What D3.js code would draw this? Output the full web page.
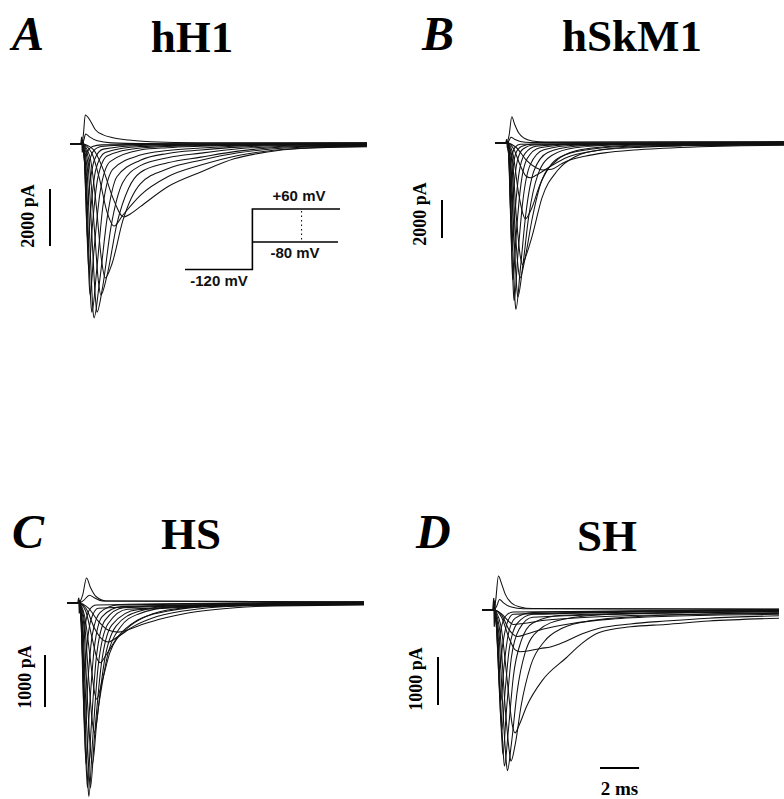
<!DOCTYPE html>
<html><head><meta charset="utf-8">
<script src="https://cdn.jsdelivr.net/npm/d3@7"></script>
<style>html,body{margin:0;padding:0;background:#fff;}svg{display:block;}</style>
</head><body>
<script>
// ---------------- DATA ----------------
const panelLetters = ["A", "B", "C", "D"];
const panelTitles = ["hH1", "hSkM1", "HS", "SH"];
const scaleBarValues = [2000, 2000, 1000, 1000];          // pA
const scaleBarLabels = ["2000 pA", "2000 pA", "1000 pA", "1000 pA"];
const timeBarValue = 2;                                   // ms
const timeBarLabel = "2 ms";
const timeDomain = [-0.6, 14.6];                          // ms

// protocol inset (panel A)
const protocolHold = -120;
const protocolTestLevels = [-80, 60];
const protocolTimes = [-10, 0, 13];
const protocolDottedTime = 7.3;
const protocolLabels = ["+60 mV", "-80 mV", "-120 mV"];

// current traces: [time ms, current pA]
const tracesA = [
  [[-0.6,0],[0,0],[0.6,-200],[1.1,-900],[1.6,-1900],[2.15,-2560],[2.5,-2450],[3,-2200],[4.4,-1500],[6.1,-980],[7.8,-520],[9.5,-280],[11.2,-160],[14.6,-95]],
  [[-0.6,0],[0,0],[0.5,-300],[0.9,-1200],[1.3,-2400],[1.65,-2880],[2.1,-2500],[3,-1800],[4.4,-1150],[6.1,-740],[8,-400],[11,-160],[14.6,-80]],
  [[-0.6,0],[0,0],[0.4,-400],[0.75,-2200],[1.0,-4000],[1.2,-4700],[1.55,-4200],[2.1,-2700],[3,-1400],[4.4,-870],[6.1,-570],[8,-310],[11,-120],[14.6,-65]],
  [[-0.6,0],[0,0],[0.35,-500],[0.65,-3000],[0.85,-4800],[0.98,-5300],[1.3,-4600],[1.8,-2800],[2.4,-1550],[3,-1000],[4.4,-660],[6.1,-460],[8,-250],[11,-90],[14.6,-50]],
  [[-0.6,0],[0,0],[0.3,-600],[0.55,-3600],[0.7,-5400],[0.78,-5900],[1.05,-5100],[1.5,-2900],[2.1,-1350],[3,-760],[4.4,-480],[6.1,-320],[8,-170],[11,-70],[14.6,-40]],
  [[-0.6,0],[0,0],[0.25,-700],[0.45,-4000],[0.57,-5800],[0.63,-6100],[0.9,-4900],[1.3,-2600],[1.8,-1150],[3,-570],[4.4,-330],[6.1,-210],[8,-110],[11,-45],[14.6,-25]],
  [[-0.6,0],[0,0],[0.2,-700],[0.38,-4200],[0.47,-5600],[0.52,-5900],[0.77,-4400],[1.08,-2200],[1.6,-880],[3,-390],[4.4,-230],[6.1,-140],[8,-70],[11,-25],[14.6,-15]],
  [[-0.6,0],[0,0],[0.18,-700],[0.32,-3800],[0.39,-5000],[0.43,-5300],[0.62,-3800],[0.95,-1650],[1.45,-620],[3,-210],[4.4,-130],[6.1,-80],[8,-40],[11,-10],[14.6,-5]],
  [[-0.6,0],[0,0],[0.16,-700],[0.28,-3300],[0.34,-4200],[0.37,-4400],[0.53,-3000],[0.82,-1200],[1.3,-420],[3,-140],[6.1,-50],[14.6,0]],
  [[-0.6,0],[0,0],[0.14,-600],[0.24,-2600],[0.29,-3250],[0.32,-3400],[0.46,-2300],[0.72,-900],[1.2,-300],[3,-90],[6.1,-30],[14.6,10]],
  [[-0.6,0],[0,0],[0.12,-400],[0.2,-1600],[0.27,-2150],[0.4,-1450],[0.65,-550],[1.1,-180],[3,-50],[6.1,-10],[14.6,20]],
  [[-0.6,0],[0,0],[0.1,-250],[0.17,-850],[0.22,-1100],[0.35,-700],[0.6,-250],[1.0,-90],[3,-20],[14.6,30]],
  [[-0.6,0],[0,0],[0.09,-100],[0.18,-400],[0.3,-250],[0.55,-90],[1.0,-30],[14.6,15]],
  [[-0.6,0],[0,0],[0.1,120],[0.2,350],[0.4,250],[0.8,110],[1.5,40],[3,20],[14.6,35]],
  [[-0.6,0],[0,0],[0.08,300],[0.18,1020],[0.45,800],[0.7,500],[1.1,320],[1.6,220],[2.4,140],[3.5,80],[6,40],[14.6,45]]
];
const tracesB = [
  [[-0.6,0],[0,0],[0.5,-250],[1.0,-900],[1.5,-1300],[1.85,-1420],[2.3,-1380],[2.8,-1100],[3.1,-950],[4,-700],[5,-520],[6.5,-370],[8,-280],[9.9,-200],[12,-140],[14.6,-110]],
  [[-0.6,0],[0,0],[0.35,-300],[0.7,-1200],[1.0,-1750],[1.2,-1830],[1.5,-1700],[2.2,-1250],[3.1,-750],[4.5,-420],[6.5,-240],[9,-150],[14.6,-90]],
  [[-0.6,0],[0,0],[0.3,-500],[0.6,-2600],[0.82,-3700],[0.95,-4000],[1.25,-3500],[1.7,-2200],[2.3,-1100],[3,-620],[4.5,-300],[7,-150],[14.6,-70]],
  [[-0.6,0],[0,0],[0.27,-700],[0.5,-4000],[0.7,-6000],[0.8,-6400],[1.0,-5900],[1.3,-4900],[1.8,-2900],[2.6,-1450],[3.5,-720],[5,-330],[8,-130],[14.6,-50]],
  [[-0.6,0],[0,0],[0.24,-800],[0.45,-4800],[0.6,-6700],[0.68,-7100],[0.95,-6000],[1.3,-4000],[1.8,-1950],[2.6,-880],[3.5,-420],[5,-200],[8,-80],[14.6,-30]],
  [[-0.6,0],[0,0],[0.2,-900],[0.4,-5500],[0.52,-7700],[0.57,-8100],[0.83,-6400],[1.12,-3900],[1.6,-1650],[2.3,-660],[3.5,-250],[6,-90],[14.6,-20]],
  [[-0.6,0],[0,0],[0.18,-1000],[0.33,-6000],[0.43,-8400],[0.47,-8750],[0.7,-6600],[0.97,-3800],[1.4,-1450],[2.1,-500],[3.5,-170],[6,-60],[14.6,-5]],
  [[-0.6,0],[0,0],[0.15,-1000],[0.27,-5800],[0.35,-8000],[0.38,-8300],[0.57,-5900],[0.82,-3100],[1.2,-1150],[1.9,-360],[3.5,-120],[14.6,0]],
  [[-0.6,0],[0,0],[0.13,-900],[0.23,-5000],[0.29,-6900],[0.32,-7200],[0.48,-4900],[0.7,-2400],[1.05,-820],[1.7,-250],[3.5,-80],[14.6,10]],
  [[-0.6,0],[0,0],[0.11,-800],[0.2,-4000],[0.27,-5700],[0.41,-3800],[0.62,-1650],[0.93,-560],[1.5,-170],[3.5,-50],[14.6,20]],
  [[-0.6,0],[0,0],[0.1,-600],[0.17,-2900],[0.23,-4100],[0.35,-2500],[0.53,-1000],[0.82,-330],[1.4,-100],[14.6,30]],
  [[-0.6,0],[0,0],[0.08,-400],[0.15,-1700],[0.2,-2500],[0.3,-1500],[0.46,-550],[0.75,-180],[1.3,-50],[14.6,40]],
  [[-0.6,0],[0,0],[0.07,-200],[0.13,-800],[0.17,-1100],[0.27,-650],[0.42,-230],[0.7,-70],[14.6,50]],
  [[-0.6,0],[0,0],[0.1,100],[0.22,300],[0.4,200],[0.7,80],[1.2,30],[14.6,60]],
  [[-0.6,0],[0,0],[0.12,400],[0.26,1380],[0.4,1000],[0.6,550],[0.9,250],[1.3,110],[2,50],[14.6,70]]
];
const tracesC = [
  [[-0.6,0],[0,0],[0.5,-100],[1.0,-350],[1.5,-520],[2.0,-560],[2.5,-520],[3.2,-420],[4.5,-280],[6,-170],[8,-90],[10,-55],[14.6,-40]],
  [[-0.6,0],[0,0],[0.4,-120],[0.8,-480],[1.2,-700],[1.5,-750],[2,-650],[2.8,-450],[4,-260],[6,-120],[9,-50],[14.6,-30]],
  [[-0.6,0],[0,0],[0.35,-150],[0.7,-700],[0.95,-1080],[1.1,-1150],[1.4,-1000],[2,-650],[3,-330],[4.5,-160],[7,-60],[14.6,-25]],
  [[-0.6,0],[0,0],[0.3,-250],[0.6,-1100],[0.8,-1700],[0.92,-1850],[1.2,-1500],[1.6,-950],[2.45,-500],[3.5,-250],[5,-110],[8,-40],[14.6,-18]],
  [[-0.6,0],[0,0],[0.27,-300],[0.52,-1500],[0.7,-2300],[0.8,-2500],[1.05,-1900],[1.45,-1050],[2.1,-480],[3,-220],[5,-70],[14.6,-12]],
  [[-0.6,0],[0,0],[0.24,-350],[0.45,-1900],[0.62,-2900],[0.7,-3100],[0.92,-2300],[1.3,-1150],[1.9,-450],[3,-170],[5,-50],[14.6,-8]],
  [[-0.6,0],[0,0],[0.2,-400],[0.4,-2300],[0.54,-3350],[0.6,-3550],[0.8,-2600],[1.15,-1200],[1.7,-420],[3,-130],[14.6,-4]],
  [[-0.6,0],[0,0],[0.18,-450],[0.35,-2500],[0.47,-3500],[0.52,-3720],[0.7,-2700],[1.0,-1200],[1.5,-400],[2.5,-120],[14.6,0]],
  [[-0.6,0],[0,0],[0.16,-450],[0.3,-2400],[0.41,-3350],[0.45,-3550],[0.62,-2500],[0.9,-1050],[1.35,-330],[2.3,-90],[14.6,4]],
  [[-0.6,0],[0,0],[0.14,-400],[0.26,-2100],[0.35,-2950],[0.38,-3100],[0.54,-2100],[0.8,-850],[1.2,-260],[2.2,-70],[14.6,8]],
  [[-0.6,0],[0,0],[0.12,-350],[0.22,-1600],[0.32,-2400],[0.47,-1500],[0.7,-600],[1.1,-180],[2,-40],[14.6,12]],
  [[-0.6,0],[0,0],[0.1,-250],[0.19,-1000],[0.27,-1500],[0.4,-900],[0.62,-330],[1.0,-100],[14.6,15]],
  [[-0.6,0],[0,0],[0.09,-120],[0.16,-450],[0.22,-700],[0.34,-400],[0.55,-130],[0.9,-40],[14.6,18]],
  [[-0.6,0],[0,0],[0.25,50],[0.55,150],[0.8,100],[1.2,40],[14.6,20]],
  [[-0.6,0],[0,0],[0.2,150],[0.4,480],[0.6,300],[0.9,120],[1.4,40],[14.6,22]]
];
const tracesD = [
  [[-0.6,0],[0,0],[0.4,-80],[0.8,-250],[1.0,-300],[1.5,-280],[2.5,-220],[4,-170],[6,-130],[9,-100],[14.6,-70]],
  [[-0.6,0],[0,0],[0.4,-100],[0.8,-420],[1.2,-550],[1.7,-500],[2.5,-400],[4,-280],[6,-190],[9,-130],[14.6,-90]],
  [[-0.6,0],[0,0],[0.4,-150],[0.8,-600],[1.1,-830],[1.35,-870],[1.8,-850],[2.4,-800],[2.9,-770],[3.7,-650],[4.5,-500],[5.4,-380],[7,-290],[8.8,-230],[11,-170],[14.6,-120]],
  [[-0.6,0],[0,0],[0.35,-300],[0.7,-1500],[0.95,-2400],[1.09,-2560],[1.3,-2400],[1.68,-2010],[2.5,-1460],[3.7,-1000],[4.5,-700],[5.4,-470],[7,-350],[8.8,-300],[11,-230],[14.6,-170]],
  [[-0.6,0],[0,0],[0.3,-400],[0.6,-2100],[0.8,-2950],[0.88,-3150],[1.1,-2800],[1.4,-2000],[1.9,-1150],[2.6,-650],[3.5,-380],[5,-220],[8,-120],[14.6,-60]],
  [[-0.6,0],[0,0],[0.25,-450],[0.5,-2300],[0.64,-3150],[0.7,-3350],[0.9,-2800],[1.2,-1700],[1.6,-900],[2.3,-420],[3.5,-200],[6,-90],[14.6,-40]],
  [[-0.6,0],[0,0],[0.2,-450],[0.4,-2300],[0.5,-3050],[0.55,-3250],[0.75,-2500],[1.0,-1400],[1.4,-650],[2.0,-270],[3.5,-110],[14.6,-30]],
  [[-0.6,0],[0,0],[0.17,-400],[0.33,-2000],[0.43,-2800],[0.47,-3000],[0.65,-2100],[0.9,-1000],[1.3,-400],[2,-150],[14.6,-20]],
  [[-0.6,0],[0,0],[0.15,-350],[0.29,-1700],[0.41,-2500],[0.58,-1700],[0.8,-800],[1.2,-280],[2,-90],[14.6,-10]],
  [[-0.6,0],[0,0],[0.13,-300],[0.25,-1300],[0.36,-1900],[0.52,-1200],[0.75,-500],[1.1,-170],[2,-50],[14.6,0]],
  [[-0.6,0],[0,0],[0.11,-200],[0.21,-850],[0.3,-1250],[0.45,-750],[0.68,-280],[1.0,-90],[14.6,5]],
  [[-0.6,0],[0,0],[0.1,-100],[0.18,-450],[0.25,-650],[0.38,-380],[0.6,-130],[1.0,-40],[14.6,10]],
  [[-0.6,0],[0,0],[0.15,80],[0.3,220],[0.5,150],[0.9,60],[1.5,25],[14.6,15]],
  [[-0.6,0],[0,0],[0.1,200],[0.24,710],[0.4,550],[0.6,320],[0.9,150],[1.3,70],[2,30],[14.6,20]]
];
// capacitive artifacts at the voltage step
const artifactA = [[-0.05,0],[0,250],[0.03,-300],[0.06,150],[0.1,0]];
const artifactB = [[-0.05,0],[0,200],[0.03,-250],[0.06,100],[0.1,0]];
const artifactC = [[-0.05,0],[0,100],[0.03,-200],[0.06,60],[0.1,0]];
const artifactD = [[-0.05,0],[0,250],[0.03,-350],[0.06,200],[0.09,-150],[0.12,0]];

const allTraces = [tracesA, tracesB, tracesC, tracesD];
const allArtifacts = [artifactA, artifactB, artifactC, artifactD];

// ---------------- LAYOUT ----------------
const W = 784, H = 799;
const panels = [
  {xr:[70,367],  base:144, px1000:28.5, letterX:12,  letterY:50,  titleX:192, titleY:52,  barX:50,  barTop:189, labX:34,  labY:216},
  {xr:[495,792], base:143, px1000:19,   letterX:422, letterY:50,  titleX:632, titleY:51,  barX:442, barTop:200, labX:426, labY:214},
  {xr:[67,364],  base:603, px1000:52,   letterX:12,  letterY:548, titleX:191, titleY:549, barX:45,  barTop:655, labX:31,  labY:677},
  {xr:[482,779], base:610, px1000:48,   letterX:416, letterY:548, titleX:607, titleY:551, barX:438, barTop:657, labX:422, labY:679}
];

const svg = d3.select("body").append("svg").attr("width", W).attr("height", H)
  .attr("viewBox", `0 0 ${W} ${H}`);
svg.append("rect").attr("width", W).attr("height", H).attr("fill", "#fff");

const serif = "'Liberation Serif','Times New Roman',Times,serif";
const sans = "'Liberation Sans',Arial,Helvetica,sans-serif";

panels.forEach((p, i) => {
  const x = d3.scaleLinear().domain(timeDomain).range(p.xr);
  const y = d3.scaleLinear().domain([0, -1000]).range([p.base, p.base + p.px1000]);
  const line = d3.line().x(d => x(d[0])).y(d => y(d[1])).curve(d3.curveMonotoneX);
  const g = svg.append("g");

  g.selectAll("path.trace").data(allTraces[i]).join("path")
    .attr("class", "trace").attr("d", line)
    .attr("fill", "none").attr("stroke", "#111").attr("stroke-width", 1.05)
    .attr("stroke-linejoin", "round");

  g.append("path").datum(allArtifacts[i])
    .attr("d", d3.line().x(d => x(d[0])).y(d => y(d[1])))
    .attr("fill", "none").attr("stroke", "#111").attr("stroke-width", 1.2);

  // letter
  g.append("text").attr("x", p.letterX).attr("y", p.letterY).text(panelLetters[i])
    .attr("font-family", serif).attr("font-weight", "bold").attr("font-style", "italic")
    .attr("font-size", 48).attr("fill", "#000");
  // title
  g.append("text").attr("x", p.titleX).attr("y", p.titleY).text(panelTitles[i])
    .attr("text-anchor", "middle")
    .attr("font-family", serif).attr("font-weight", "bold")
    .attr("font-size", 45).attr("fill", "#000");
  // current scale bar
  const barLen = y(-scaleBarValues[i]) - y(0);
  g.append("line").attr("x1", p.barX).attr("x2", p.barX)
    .attr("y1", p.barTop).attr("y2", p.barTop + barLen)
    .attr("stroke", "#000").attr("stroke-width", 2);
  g.append("text").attr("transform", `translate(${p.labX},${p.labY}) rotate(-90)`)
    .attr("text-anchor", "middle").text(scaleBarLabels[i])
    .attr("font-family", serif).attr("font-weight", "bold").attr("font-size", 18).attr("fill", "#000");

  // time scale bar (panel D)
  if (i === 3) {
    const tx0 = 600;
    const tLen = x(timeBarValue) - x(0);
    g.append("line").attr("x1", tx0).attr("x2", tx0 + tLen).attr("y1", 768).attr("y2", 768)
      .attr("stroke", "#000").attr("stroke-width", 2);
    g.append("text").attr("x", tx0 + tLen / 2).attr("y", 795).attr("text-anchor", "middle")
      .text(timeBarLabel).attr("font-family", serif).attr("font-weight", "bold")
      .attr("font-size", 19).attr("fill", "#000");
  }
});

// ---------------- PROTOCOL INSET (panel A) ----------------
const xP = d3.scaleLinear().domain([protocolTimes[0], protocolTimes[2]]).range([185, 340]);
const yP = d3.scaleLinear().domain([protocolHold, protocolTestLevels[0], protocolTestLevels[1]]).range([269.5, 242, 209]);
const pg = svg.append("g").attr("stroke", "#000").attr("fill", "none");
pg.append("path").attr("stroke-width", 1.6)
  .attr("d", d3.line()([[xP(protocolTimes[0]), yP(protocolHold)], [xP(protocolTimes[1]), yP(protocolHold)], [xP(protocolTimes[1]), yP(protocolTestLevels[1])], [xP(protocolTimes[2]), yP(protocolTestLevels[1])]]));
pg.append("line").attr("stroke-width", 1.4)
  .attr("x1", xP(protocolTimes[1])).attr("x2", xP(protocolTimes[2]) - 2)
  .attr("y1", yP(protocolTestLevels[0])).attr("y2", yP(protocolTestLevels[0]));
pg.append("line").attr("stroke-width", 1).attr("stroke-dasharray", "1.5,3")
  .attr("x1", xP(protocolDottedTime)).attr("x2", xP(protocolDottedTime))
  .attr("y1", yP(protocolTestLevels[1]) + 2).attr("y2", yP(protocolTestLevels[0]) - 1);
const lab = [
  {t: protocolLabels[0], x: 299, y: 201},
  {t: protocolLabels[1], x: 295, y: 258},
  {t: protocolLabels[2], x: 219, y: 286}
];
svg.selectAll("text.plab").data(lab).join("text").attr("class", "plab")
  .attr("x", d => d.x).attr("y", d => d.y).attr("text-anchor", "middle").text(d => d.t)
  .attr("font-family", sans).attr("font-weight", "bold").attr("font-size", 15).attr("fill", "#111");
</script>
</body></html>
